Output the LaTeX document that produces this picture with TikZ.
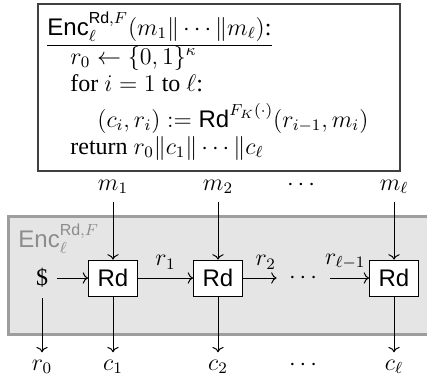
\documentclass[12pt,tikz,border=0pt]{standalone}
\usepackage{amsmath}
\usepackage[no-math]{fontspec}
\setmainfont{Liberation Serif}
\setsansfont{Liberation Sans}
\usetikzlibrary{arrows.meta}
\begin{document}
\begin{tikzpicture}[x=0.5pt,y=-0.5pt,
  txt/.style={inner sep=0pt,anchor=base west},
  lbl/.style={inner sep=0pt,anchor=base},
  rdbox/.style={draw,fill=white,minimum width=24.5pt,minimum height=18pt,inner sep=0pt,font=\sffamily},
  flow/.style={->,line width=0.5pt},
  edgelbl/.style={above=4pt,inner sep=0pt},
  encbox/.style={draw=black!75,line width=0.8pt},
  graybox/.style={draw=black!38,fill=black!10,line width=1.3pt}]
\useasboundingbox (0,0) rectangle (427,381);
\clip (0,0) rectangle (427,381);
% top algorithm box
\node[encbox,minimum width=181pt,minimum height=83.5pt,anchor=north west,inner sep=0pt] (algo) at (37,3) {};
\node[txt] (hdr) at (47,35) {\underline{\textsf{Enc}$_\ell^{\textsf{Rd},F}(m_1\|\cdots\|m_\ell)$:}};
\node[txt] (l1) at (70,64) {$r_0 \leftarrow \{0,1\}^\kappa$};
\node[txt] (l2) at (70,91) {for $i=1$ to $\ell$:};
\node[txt] (l3) at (97,127) {$(c_i,r_i) := \textsf{Rd}^{F_K(\cdot)}(r_{i-1},m_i)$};
\node[txt] (l4) at (70,154) {return $r_0\|c_1\|\cdots\|c_\ell$};
% gray area
\node[graybox,minimum width=216.5pt,minimum height=59pt,anchor=north west,inner sep=0pt] (area) at (7,215) {};
\node[txt,text=black!45] (enclbl) at (18,247) {\textsf{Enc}$_\ell^{\textsf{Rd},F}$};
% inputs
\node[lbl] (m1) at (113,190) {$m_1$};
\node[lbl] (m2) at (218,190) {$m_2$};
\node[lbl] (mdots) at (303,190) {$\cdots$};
\node[lbl] (ml) at (394,190) {$m_\ell$};
% Rd boxes
\node[rdbox] (rd1) at (113,278) {Rd};
\node[rdbox] (rd2) at (218,278) {Rd};
\node[rdbox] (rd3) at (394,278) {Rd};
\node[inner sep=0pt] (dollar) at (42,278) {\$};
\node[inner sep=0pt] (rdots) at (305,278) {$\cdots$};
% outputs
\node[lbl] (r0) at (42,370) {$r_0$};
\node[lbl] (c1) at (113,370) {$c_1$};
\node[lbl] (c2) at (218,370) {$c_2$};
\node[lbl] (cdots) at (305,370) {$\cdots$};
\node[lbl] (cl) at (394,370) {$c_\ell$};
% connectors
\draw[flow,shorten <=4pt] (m1) -- (rd1);
\draw[flow,shorten <=4pt] (m2) -- (rd2);
\draw[flow,shorten <=4pt] (ml) -- (rd3);
\draw[flow,shorten <=4.5pt] (dollar) -- (rd1);
\draw[flow] (rd1) -- node[edgelbl] {$r_1$} (rd2);
\draw[flow,shorten >=6pt] (rd2) -- node[edgelbl] {$r_2$} (rdots);
\draw[flow,shorten <=4.5pt] (rdots) -- node[edgelbl] {$r_{\ell-1}$} (rd3);
\draw[flow,shorten <=5pt,shorten >=3.5pt] (dollar) -- (r0);
\draw[flow,shorten >=3.5pt] (rd1) -- (c1);
\draw[flow,shorten >=3.5pt] (rd2) -- (c2);
\draw[flow,shorten >=3.5pt] (rd3) -- (cl);
\end{tikzpicture}
\end{document}
